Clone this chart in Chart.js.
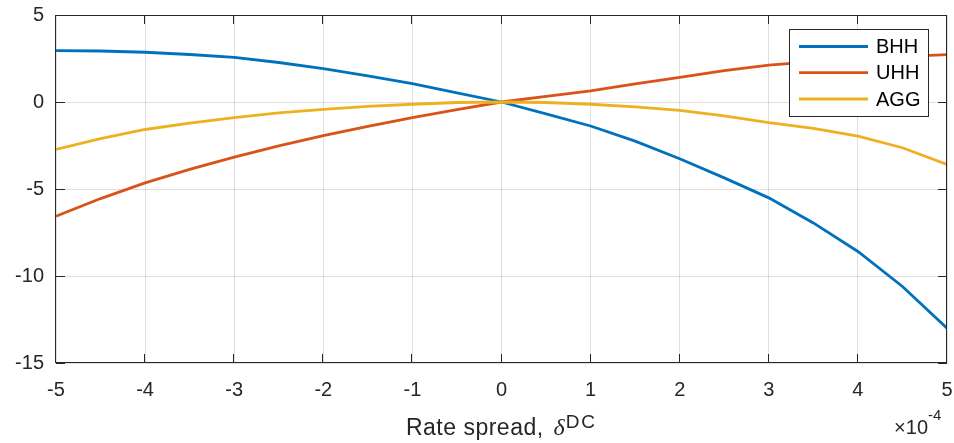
<!DOCTYPE html>
<html>
<head>
<meta charset="utf-8">
<script src="https://cdn.jsdelivr.net/npm/chart.js@4/dist/chart.umd.min.js"></script>
<style>
html,body{margin:0;padding:0;background:#ffffff;}
canvas{display:block;}
</style>
</head>
<body>
<canvas id="c" width="954" height="443"></canvas>
<script>
// ---- data (rate spread in units of 1e-4) ----
const xValues = [-5, -4.5, -4, -3.5, -3, -2.5, -2, -1.5, -1, -0.5, 0, 0.5, 1, 1.5, 2, 2.5, 3, 3.5, 4, 4.5, 5];
const bhhValues = [2.95, 2.93, 2.86, 2.73, 2.56, 2.27, 1.92, 1.5, 1.06, 0.53, 0, -0.68, -1.38, -2.25, -3.26, -4.36, -5.51, -6.95, -8.59, -10.6, -13.0];
const uhhValues = [-6.57, -5.55, -4.65, -3.87, -3.17, -2.52, -1.93, -1.4, -0.9, -0.44, 0, 0.32, 0.64, 1.04, 1.42, 1.8, 2.12, 2.32, 2.48, 2.61, 2.72];
const aggValues = [-2.73, -2.1, -1.58, -1.22, -0.9, -0.63, -0.42, -0.25, -0.13, -0.03, 0, -0.03, -0.13, -0.28, -0.48, -0.8, -1.18, -1.52, -1.96, -2.63, -3.59];
const seriesNames = ['BHH', 'UHH', 'AGG'];
const seriesColors = ['#0072BD', '#D95319', '#EDB120'];
const xTickValues = [-5, -4, -3, -2, -1, 0, 1, 2, 3, 4, 5];
const yTickValues = [-15, -10, -5, 0, 5];
const xTitleText = 'Rate spread, ';
const xTitleSymbol = 'δ';
const xTitleSup = 'DC';
const exponentBase = '×10';
const exponentSup = '-4';

const FONT = "'Liberation Sans', Arial, Helvetica, sans-serif";
const AXIS_COLOR = '#262626';
const GRID_COLOR = 'rgba(38,38,38,0.15)';

function toPoints(ys) { return xValues.map((x, i) => ({ x: x, y: ys[i] })); }
const seriesValues = [bhhValues, uhhValues, aggValues];

const datasets = seriesNames.map((name, i) => ({
  label: name,
  data: toPoints(seriesValues[i]),
  borderColor: seriesColors[i],
  backgroundColor: seriesColors[i],
  borderWidth: 2.8,
  pointRadius: 0,
  tension: 0,
  fill: false,
  order: seriesNames.length - i
}));

function zeroPad(s) { s.paddingTop = 0; s.paddingBottom = 0; s.paddingLeft = 0; s.paddingRight = 0; }

const frame = {
  id: 'frame',
  afterDatasetsDraw(chart) {
    const { ctx, chartArea: a, scales: { x, y } } = chart;
    ctx.save();
    ctx.strokeStyle = AXIS_COLOR;
    ctx.lineWidth = 1;
    ctx.beginPath();
    ctx.rect(Math.round(a.left) - 0.5, Math.round(a.top) + 0.5, Math.round(a.right - a.left), Math.round(a.bottom - a.top) - 1);
    ctx.stroke();
    const tl = 9;
    ctx.beginPath();
    xTickValues.forEach(v => {
      const px = Math.round(x.getPixelForValue(v)) - 0.5;
      ctx.moveTo(px, a.bottom); ctx.lineTo(px, a.bottom - tl);
      ctx.moveTo(px, a.top); ctx.lineTo(px, a.top + tl);
    });
    yTickValues.forEach(v => {
      const py = Math.round(y.getPixelForValue(v)) + 0.5;
      ctx.moveTo(a.left, py); ctx.lineTo(a.left + tl, py);
      ctx.moveTo(a.right, py); ctx.lineTo(a.right - tl, py);
    });
    ctx.stroke();
    ctx.restore();
  },
  afterDraw(chart) {
    const { ctx, chartArea: a } = chart;
    ctx.save();
    // legend box
    const lx = 789.5, ly = 29.5, lw = 139, lh = 87;
    ctx.fillStyle = '#ffffff';
    ctx.fillRect(lx, ly, lw, lh);
    ctx.strokeStyle = AXIS_COLOR;
    ctx.lineWidth = 1;
    ctx.strokeRect(lx, ly, lw, lh);
    const rows = [46.5, 72.7, 99];
    ctx.font = '20px ' + FONT;
    ctx.textBaseline = 'middle';
    ctx.textAlign = 'left';
    seriesNames.forEach((n, i) => {
      ctx.strokeStyle = seriesColors[i];
      ctx.lineWidth = 2.8;
      ctx.beginPath();
      ctx.moveTo(799, rows[i]); ctx.lineTo(868, rows[i]);
      ctx.stroke();
      ctx.fillStyle = '#000000';
      ctx.fillText(n, 876, rows[i] + 1);
    });

    // x-axis title with superscript
    ctx.fillStyle = AXIS_COLOR;
    ctx.textBaseline = 'alphabetic';
    ctx.textAlign = 'left';
    const hasLS = ('letterSpacing' in ctx);
    const f1 = '23px ' + FONT, f2 = 'italic 24px "Liberation Serif", "DejaVu Serif", serif', f3 = '19px ' + FONT;
    if (hasLS) ctx.letterSpacing = '0.5px';
    ctx.font = f1; const w1 = ctx.measureText(xTitleText).width;
    if (hasLS) ctx.letterSpacing = '0px';
    ctx.font = f2; const w2 = ctx.measureText(xTitleSymbol).width;
    if (hasLS) ctx.letterSpacing = '2px';
    ctx.font = f3; const w3 = ctx.measureText(xTitleSup).width;
    const total = w1 + 3 + w2 + 1 + w3;
    let sx = (a.left + a.right) / 2 - total / 2;
    const base = 435;
    if (hasLS) ctx.letterSpacing = '0.5px';
    ctx.font = f1; ctx.fillText(xTitleText, sx, base); sx += w1 + 3;
    if (hasLS) ctx.letterSpacing = '0px';
    ctx.font = f2; ctx.fillText(xTitleSymbol, sx, base); sx += w2 + 1;
    if (hasLS) ctx.letterSpacing = '2px';
    ctx.font = f3; ctx.fillText(xTitleSup, sx, 428);
    if (hasLS) ctx.letterSpacing = '0px';

    // exponent label
    ctx.font = '20px ' + FONT;
    ctx.textAlign = 'right';
    ctx.fillText(exponentBase, 928, 434);
    ctx.font = '15px ' + FONT;
    ctx.textAlign = 'left';
    ctx.fillText(exponentSup, 928, 420);
    ctx.restore();
  }
};

new Chart(document.getElementById('c'), {
  type: 'line',
  data: { datasets: datasets },
  options: {
    responsive: false,
    animation: false,
    devicePixelRatio: 1,
    layout: { padding: { top: 15, right: 7, left: 0, bottom: 0 } },
    plugins: { legend: { display: false }, tooltip: { enabled: false } },
    scales: {
      x: {
        type: 'linear', min: -5, max: 5,
        afterBuildTicks: s => { s.ticks = xTickValues.map(v => ({ value: v })); },
        afterFit: s => { s.height = 80; zeroPad(s); },
        grid: { color: GRID_COLOR, lineWidth: 1, drawTicks: false },
        border: { display: false },
        ticks: { font: { size: 20, family: FONT }, color: AXIS_COLOR, padding: 15, maxRotation: 0, autoSkip: false }
      },
      y: {
        type: 'linear', min: -15, max: 5,
        afterBuildTicks: s => { s.ticks = yTickValues.map(v => ({ value: v })); },
        afterFit: s => { s.width = 56; zeroPad(s); },
        grid: { color: GRID_COLOR, lineWidth: 1, drawTicks: false },
        border: { display: false },
        ticks: { font: { size: 20, family: FONT }, color: AXIS_COLOR, padding: 12, autoSkip: false }
      }
    }
  },
  plugins: [frame]
});
</script>
</body>
</html>
